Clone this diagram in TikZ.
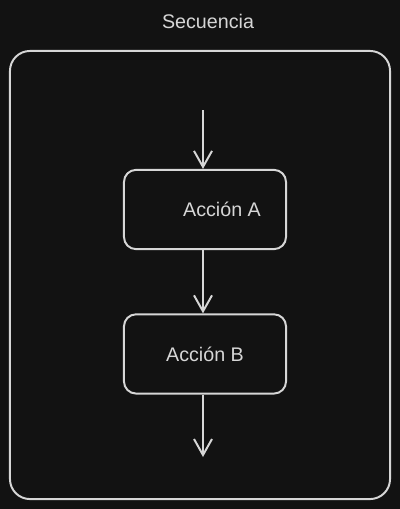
\documentclass[tikz,border=0pt]{standalone}
\usepackage{fontspec}
\setmainfont{Liberation Sans}
\usetikzlibrary{shapes.geometric, arrows.meta, positioning}
\definecolor{bgdark}{HTML}{121212}
\definecolor{inkgray}{HTML}{D6D6D6}
\tikzstyle{frame} = [rectangle, rounded corners=0.5cm,
minimum width=9.5cm,
minimum height=11.2cm,
draw=inkgray,
line width=1.4pt]
\tikzstyle{action} = [rectangle, rounded corners=0.3cm,
minimum width=4.05cm,
minimum height=1.98cm,
text centered,
draw=inkgray,
line width=1.4pt,
text=inkgray]
\tikzstyle{arrow} = [line width=1.4pt, draw=inkgray, -{Straight Barb[length=0.4cm, width=0.45cm]}]

\begin{document}
\begin{tikzpicture}[x=0.025cm, y=-0.025cm, node distance=3.61cm,
  every node/.style={font=\fontsize{14}{16}\selectfont}]
% Background
\fill[bgdark] (0,0) rectangle (400,509);

% Nodes
\node (title) [text=inkgray] at (208,21) {Secuencia};
\node (seq) [frame] at (200,275) {};

\node (acca) [action] at (205,209.5) {\hspace*{0.85cm}Acción A};
\node (accb) [action, below of=acca] {Acción B};

\coordinate (entry) at (203,110);
\coordinate (exit) at (203,457);

% Connections
\draw [arrow] (entry) -- (entry |- acca.north);
\draw [arrow] (entry |- acca.south) -- (entry |- accb.north);
\draw [arrow] (entry |- accb.south) -- (exit);

\end{tikzpicture}
\end{document}
